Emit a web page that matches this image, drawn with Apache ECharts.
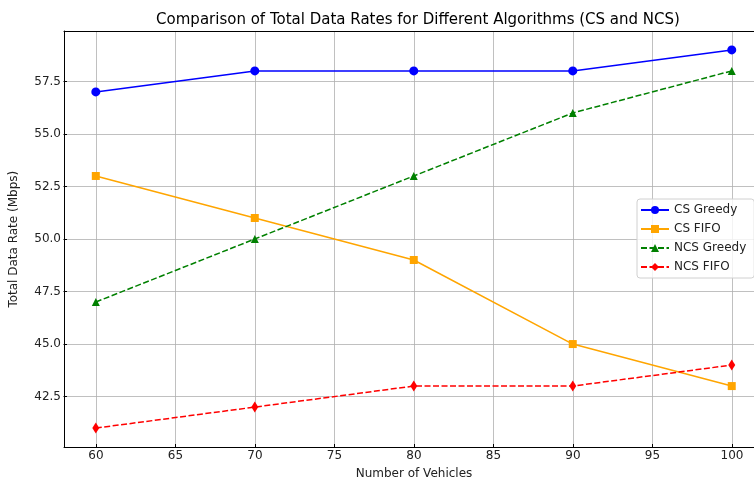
<!DOCTYPE html>
<html><head><meta charset="utf-8">
<script src="https://cdn.jsdelivr.net/npm/echarts@6/dist/echarts.min.js"></script>
<style>html,body{margin:0;padding:0;background:#fff}#c{width:754px;height:485px}</style>
</head><body><div id="c"></div>
<script>
const vehicles = [60, 70, 80, 90, 100];
const csGreedy = [57, 58, 58, 58, 59];
const csFifo = [53, 51, 49, 45, 43];
const ncsGreedy = [47, 50, 53, 56, 58];
const ncsFifo = [41, 42, 43, 43, 44];
const seriesNames = ['CS Greedy', 'CS FIFO', 'NCS Greedy', 'NCS FIFO'];
const titleText = 'Comparison of Total Data Rates for Different Algorithms (CS and NCS)';
const xLabel = 'Number of Vehicles';
const yLabel = 'Total Data Rate (Mbps)';

const font = 'DejaVu Sans';
const pts = arr => vehicles.map((v, i) => [v, arr[i]]);
const gridColor = '#b0b0b0';
const spine = {show: true, onZero: false, lineStyle: {color: '#000', width: 1}};

const chart = echarts.init(document.getElementById('c'), null, {renderer: 'canvas'});
const mk = (name, data, color, symbol, size, dashed) => ({
  name, type: 'line', data: pts(data), xAxisIndex: 0, yAxisIndex: 0,
  symbol, symbolSize: size, showSymbol: true,
  lineStyle: {color, width: 1.5, type: dashed ? [6, 2.5] : 'solid'},
  itemStyle: {color, borderWidth: 0},
  emphasis: {disabled: true}, animation: false, z: 5
});
chart.setOption({
  animation: false,
  backgroundColor: '#fff',
  title: {text: titleText, left: 413, top: 8, textAlign: 'center',
    textStyle: {fontFamily: font, fontSize: 15, fontWeight: 'normal', color: '#000'}},
  grid: [
    {left: 64, top: 31, width: 690, height: 416},
    {left: 96, top: 31, width: 636, height: 416},
    {left: 64, top: 81.7, width: 690, height: 315}
  ],
  xAxis: [
    {gridIndex: 0, type: 'value', min: 58, max: 101.4, axisLine: spine, axisTick: {show: false}, axisLabel: {show: false}, splitLine: {show: false}, z: 4},
    {gridIndex: 1, type: 'value', min: 60, max: 100, interval: 5, axisLine: {show: false},
      axisTick: {show: true, length: 3.5, lineStyle: {color: '#000'}},
      axisLabel: {fontFamily: font, fontSize: 12, color: '#222', margin: 6},
      splitLine: {show: true, lineStyle: {color: gridColor, width: 0.8}},
      name: xLabel, nameLocation: 'middle', nameGap: 24,
      nameTextStyle: {fontFamily: font, fontSize: 12, color: '#222'}},
    {gridIndex: 2, type: 'value', min: 0, max: 1, show: false},
    {gridIndex: 0, type: 'value', position: 'top', min: 0, max: 1, axisLine: spine, axisTick: {show: false}, axisLabel: {show: false}, splitLine: {show: false}, z: 4}
  ],
  yAxis: [
    {gridIndex: 0, type: 'value', min: 40.1, max: 59.9, axisLine: spine, axisTick: {show: false}, axisLabel: {show: false}, splitLine: {show: false}, z: 4},
    {gridIndex: 1, type: 'value', min: 0, max: 1, show: false},
    {gridIndex: 2, type: 'value', min: 42.5, max: 57.5, interval: 2.5, axisLine: {show: false},
      axisTick: {show: true, length: 3.5, lineStyle: {color: '#000'}},
      axisLabel: {fontFamily: font, fontSize: 12, color: '#222', margin: 6, formatter: v => v.toFixed(1)},
      splitLine: {show: true, lineStyle: {color: gridColor, width: 0.8}},
      name: yLabel, nameLocation: 'middle', nameGap: 47, nameRotate: 90,
      nameTextStyle: {fontFamily: font, fontSize: 12, color: '#222'}}
  ],
  legend: {
    orient: 'vertical', left: 637, top: 199, data: seriesNames,
    itemWidth: 28, itemHeight: 10, itemGap: 7,
    padding: [5, 8, 5, 3],
    backgroundColor: 'rgba(255,255,255,0.8)', borderColor: '#d0d0d0', borderWidth: 1, borderRadius: 3,
    textStyle: {fontFamily: font, fontSize: 12, color: '#222'},
    selectedMode: false
  },
  series: [
    mk(seriesNames[0], csGreedy, '#0000ff', 'circle', 9, false),
    mk(seriesNames[1], csFifo, '#ffa500', 'rect', 8, false),
    mk(seriesNames[2], ncsGreedy, '#008000', 'triangle', 8, true),
    mk(seriesNames[3], ncsFifo, '#ff0000', 'diamond', [7, 11], true)
  ]
});
</script></body></html>
